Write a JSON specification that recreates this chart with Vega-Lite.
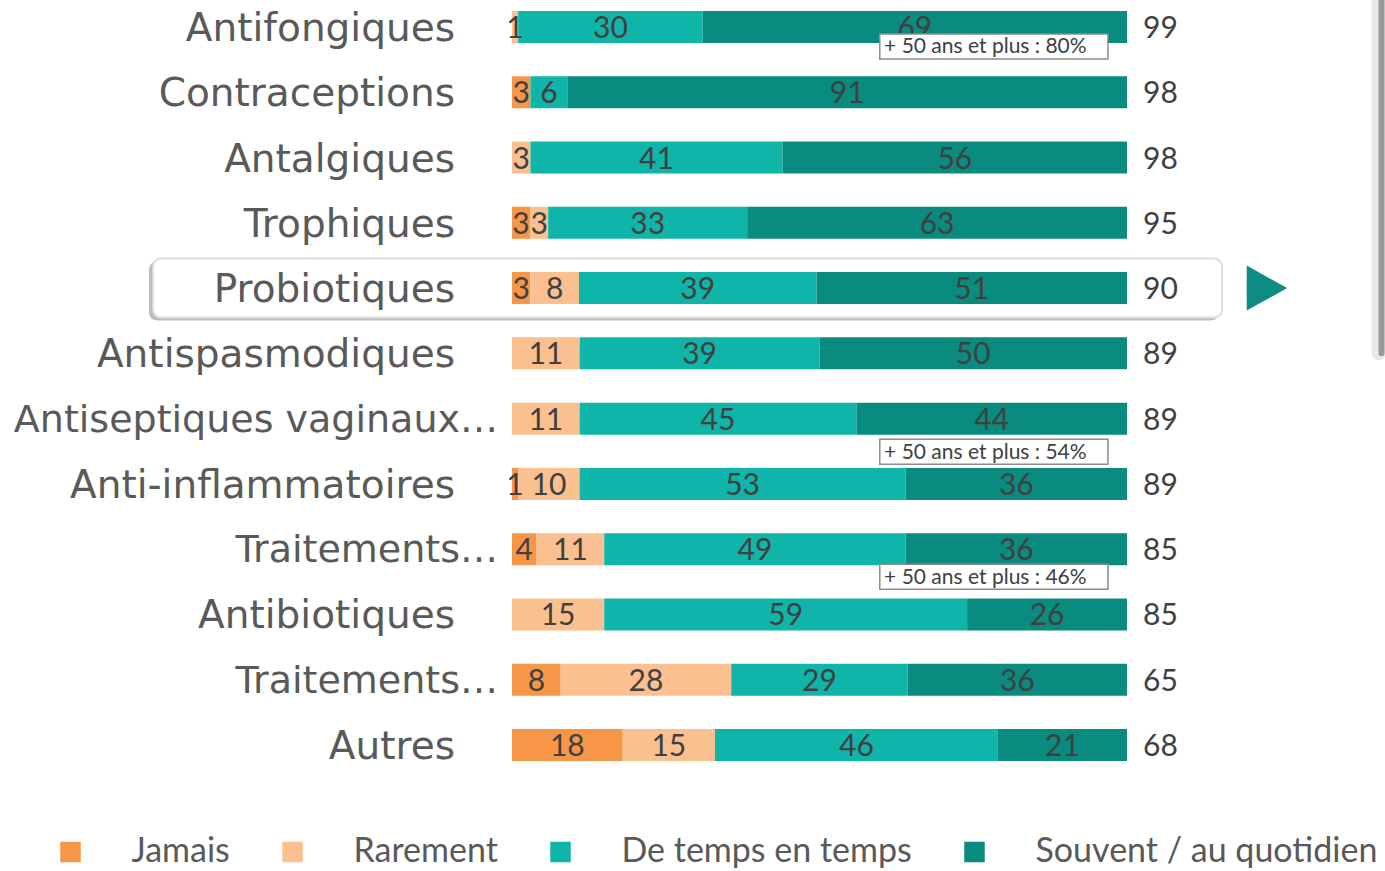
{
  "$schema": "https://vega.github.io/schema/vega-lite/v6.json",
  "width": 1385,
  "height": 871,
  "autosize": "none",
  "padding": 0,
  "background": "white",
  "config": {"view": {"stroke": null}},
  "datasets": {
    "rows": [
      {"id": "r01", "label": "Antifongiques", "total": 99, "Jamais": 0, "Rarement": 1, "De temps en temps": 30, "Souvent / au quotidien": 69},
      {"id": "r02", "label": "Contraceptions", "total": 98, "Jamais": 3, "Rarement": 0, "De temps en temps": 6, "Souvent / au quotidien": 91},
      {"id": "r03", "label": "Antalgiques", "total": 98, "Jamais": 0, "Rarement": 3, "De temps en temps": 41, "Souvent / au quotidien": 56},
      {"id": "r04", "label": "Trophiques", "total": 95, "Jamais": 3, "Rarement": 3, "De temps en temps": 33, "Souvent / au quotidien": 63},
      {"id": "r05", "label": "Probiotiques", "total": 90, "Jamais": 3, "Rarement": 8, "De temps en temps": 39, "Souvent / au quotidien": 51},
      {"id": "r06", "label": "Antispasmodiques", "total": 89, "Jamais": 0, "Rarement": 11, "De temps en temps": 39, "Souvent / au quotidien": 50},
      {"id": "r07", "label": "Antiseptiques vaginaux…", "total": 89, "Jamais": 0, "Rarement": 11, "De temps en temps": 45, "Souvent / au quotidien": 44},
      {"id": "r08", "label": "Anti-inflammatoires", "total": 89, "Jamais": 1, "Rarement": 10, "De temps en temps": 53, "Souvent / au quotidien": 36},
      {"id": "r09", "label": "Traitements…", "total": 85, "Jamais": 4, "Rarement": 11, "De temps en temps": 49, "Souvent / au quotidien": 36},
      {"id": "r10", "label": "Antibiotiques", "total": 85, "Jamais": 0, "Rarement": 15, "De temps en temps": 59, "Souvent / au quotidien": 26},
      {"id": "r11", "label": "Traitements…", "total": 65, "Jamais": 8, "Rarement": 28, "De temps en temps": 29, "Souvent / au quotidien": 36},
      {"id": "r12", "label": "Autres", "total": 68, "Jamais": 18, "Rarement": 15, "De temps en temps": 46, "Souvent / au quotidien": 21}
    ],
    "segs": [
      {"seg": "Jamais", "rank": 1},
      {"seg": "Rarement", "rank": 2},
      {"seg": "De temps en temps", "rank": 3},
      {"seg": "Souvent / au quotidien", "rank": 4}
    ],
    "notes": [
      {"id": "r01", "note": "+ 50 ans et plus : 80%"},
      {"id": "r07", "note": "+ 50 ans et plus : 54%"},
      {"id": "r09", "note": "+ 50 ans et plus : 46%"}
    ]
  },
  "data": {"name": "rows"},
  "layer": [
    {
      "data": {"values": [{}]},
      "mark": {"type": "rule", "color": "#e8e8e8", "strokeWidth": 14, "yOffset": -30, "strokeCap": "round"},
      "encoding": {
        "x": {"datum": 1.409, "type": "quantitative", "scale": {"domain": [-0.8325, 1.4195], "nice": false, "zero": false}, "axis": null},
        "y": {"datum": "r01", "type": "nominal", "scale": {"domain": ["r01","r02","r03","r04","r05","r06","r07","r08","r09","r10","r11","r12"], "range": [11, 761], "paddingInner": 0.51, "paddingOuter": 0, "round": false}, "axis": null},
        "y2": {"datum": "r06"}
      }
    },
    {
      "data": {"values": [{}]},
      "mark": {"type": "rule", "color": "#9a9a9a", "strokeWidth": 6, "yOffset": -30, "strokeCap": "round"},
      "encoding": {
        "x": {"datum": 1.4138, "type": "quantitative"},
        "y": {"datum": "r01", "type": "nominal"},
        "y2": {"datum": "r06"}
      }
    },
    {
      "transform": [{"filter": "datum.id == 'r05'"}],
      "mark": {"type": "bar", "height": 59, "cornerRadius": 8, "fill": "#bdbdbd", "xOffset": -4, "x2Offset": -3, "yOffset": 3},
      "encoding": {
        "x": {"datum": -0.5837, "type": "quantitative"},
        "x2": {"datum": 1.1545},
        "y": {"field": "id", "type": "nominal"}
      }
    },
    {
      "transform": [{"filter": "datum.id == 'r05'"}],
      "mark": {"type": "bar", "height": 59, "cornerRadius": 8, "fill": "white", "stroke": "#dedede", "strokeWidth": 2},
      "encoding": {
        "x": {"datum": -0.5837, "type": "quantitative"},
        "x2": {"datum": 1.1545},
        "y": {"field": "id", "type": "nominal"}
      }
    },
    {
      "transform": [{"filter": "datum.id == 'r05'"}],
      "mark": {"type": "point", "shape": "M-0.9,-1L0.9,0L-0.9,1Z", "size": 2025, "filled": true, "color": "#0E8C84", "opacity": 1},
      "encoding": {
        "x": {"datum": 1.2276, "type": "quantitative"},
        "y": {"field": "id", "type": "nominal"}
      }
    },
    {
      "transform": [
        {"fold": ["Jamais", "Rarement", "De temps en temps", "Souvent / au quotidien"], "as": ["seg", "value"]},
        {"lookup": "seg", "from": {"data": {"name": "segs"}, "key": "seg", "fields": ["rank"]}},
        {"stack": "value", "groupby": ["id"], "sort": [{"field": "rank", "order": "ascending"}], "as": ["v0", "v1"], "offset": "normalize"}
      ],
      "mark": {"type": "bar", "height": 32},
      "encoding": {
        "x": {"field": "v0", "type": "quantitative"},
        "x2": {"field": "v1"},
        "y": {"field": "id", "type": "nominal"},
        "color": {
          "field": "seg", "type": "nominal",
          "scale": {"domain": ["Jamais", "Rarement", "De temps en temps", "Souvent / au quotidien"], "range": ["#F79646", "#FAC08F", "#10B5AA", "#0A8B80"]},
          "legend": {
            "orient": "none", "legendX": 53.5, "legendY": 835, "direction": "horizontal", "title": null,
            "symbolType": "square", "symbolSize": 420, "symbolStrokeWidth": 0, "symbolOpacity": 1,
            "labelFont": "Lato", "labelFontSize": 34, "labelColor": "#595959", "labelOffset": 44, "labelLimit": 600,
            "columnPadding": 45
          }
        }
      }
    },
    {
      "transform": [
        {"fold": ["Jamais", "Rarement", "De temps en temps", "Souvent / au quotidien"], "as": ["seg", "value"]},
        {"lookup": "seg", "from": {"data": {"name": "segs"}, "key": "seg", "fields": ["rank"]}},
        {"stack": "value", "groupby": ["id"], "sort": [{"field": "rank", "order": "ascending"}], "as": ["v0", "v1"], "offset": "normalize"},
        {"filter": "datum.value > 0"},
        {"fold": ["v0", "v1"], "as": ["edge", "pos"]}
      ],
      "mark": {"type": "text", "font": "Lato", "fontSize": 30, "color": "#404040", "baseline": "middle", "align": "center", "dy": 2},
      "encoding": {
        "x": {"field": "pos", "aggregate": "mean", "type": "quantitative"},
        "y": {"field": "id", "type": "nominal"},
        "detail": {"field": "seg"},
        "text": {"field": "value", "aggregate": "max", "type": "quantitative"}
      }
    },
    {
      "transform": [{"filter": "indexof(datum.label, '…') < 0"}],
      "mark": {"type": "text", "font": "DejaVu Sans", "fontSize": 39, "color": "#595959", "baseline": "middle", "align": "right", "dy": 2},
      "encoding": {
        "x": {"datum": -0.0927, "type": "quantitative"},
        "y": {"field": "id", "type": "nominal"},
        "text": {"field": "label"}
      }
    },
    {
      "transform": [{"filter": "indexof(datum.label, '…') >= 0"}],
      "mark": {"type": "text", "font": "DejaVu Sans", "fontSize": 38, "color": "#595959", "baseline": "middle", "align": "right", "dy": 2},
      "encoding": {
        "x": {"datum": -0.0228, "type": "quantitative"},
        "y": {"field": "id", "type": "nominal"},
        "text": {"field": "label"}
      }
    },
    {
      "mark": {"type": "text", "font": "Lato", "fontSize": 30, "color": "#404040", "baseline": "middle", "align": "left", "dy": 2},
      "encoding": {
        "x": {"datum": 1.026, "type": "quantitative"},
        "y": {"field": "id", "type": "nominal"},
        "text": {"field": "total", "type": "quantitative"}
      }
    },
    {
      "data": {"name": "notes"},
      "transform": [{"filter": "datum.id == 'r01'"}],
      "layer": [
        {
          "mark": {"type": "bar", "height": 25, "yOffset": 19.5, "fill": "white", "stroke": "#8c8c8c", "strokeWidth": 1.5},
          "encoding": {"x": {"datum": 0.598, "type": "quantitative"}, "x2": {"datum": 0.969}, "y": {"field": "id", "type": "nominal"}}
        },
        {
          "mark": {"type": "text", "font": "Lato", "fontSize": 21, "color": "#404040", "baseline": "middle", "align": "left", "dy": 20.5},
          "encoding": {"x": {"datum": 0.605, "type": "quantitative"}, "y": {"field": "id", "type": "nominal"}, "text": {"field": "note"}}
        }
      ]
    },
    {
      "data": {"name": "notes"},
      "transform": [{"filter": "datum.id == 'r07'"}],
      "layer": [
        {
          "mark": {"type": "bar", "height": 25, "yOffset": 33, "fill": "white", "stroke": "#8c8c8c", "strokeWidth": 1.5},
          "encoding": {"x": {"datum": 0.598, "type": "quantitative"}, "x2": {"datum": 0.969}, "y": {"field": "id", "type": "nominal"}}
        },
        {
          "mark": {"type": "text", "font": "Lato", "fontSize": 21, "color": "#404040", "baseline": "middle", "align": "left", "dy": 34},
          "encoding": {"x": {"datum": 0.605, "type": "quantitative"}, "y": {"field": "id", "type": "nominal"}, "text": {"field": "note"}}
        }
      ]
    },
    {
      "data": {"name": "notes"},
      "transform": [{"filter": "datum.id == 'r09'"}],
      "layer": [
        {
          "mark": {"type": "bar", "height": 25, "yOffset": 27.5, "fill": "white", "stroke": "#8c8c8c", "strokeWidth": 1.5},
          "encoding": {"x": {"datum": 0.598, "type": "quantitative"}, "x2": {"datum": 0.969}, "y": {"field": "id", "type": "nominal"}}
        },
        {
          "mark": {"type": "text", "font": "Lato", "fontSize": 21, "color": "#404040", "baseline": "middle", "align": "left", "dy": 28.5},
          "encoding": {"x": {"datum": 0.605, "type": "quantitative"}, "y": {"field": "id", "type": "nominal"}, "text": {"field": "note"}}
        }
      ]
    }
  ]
}
